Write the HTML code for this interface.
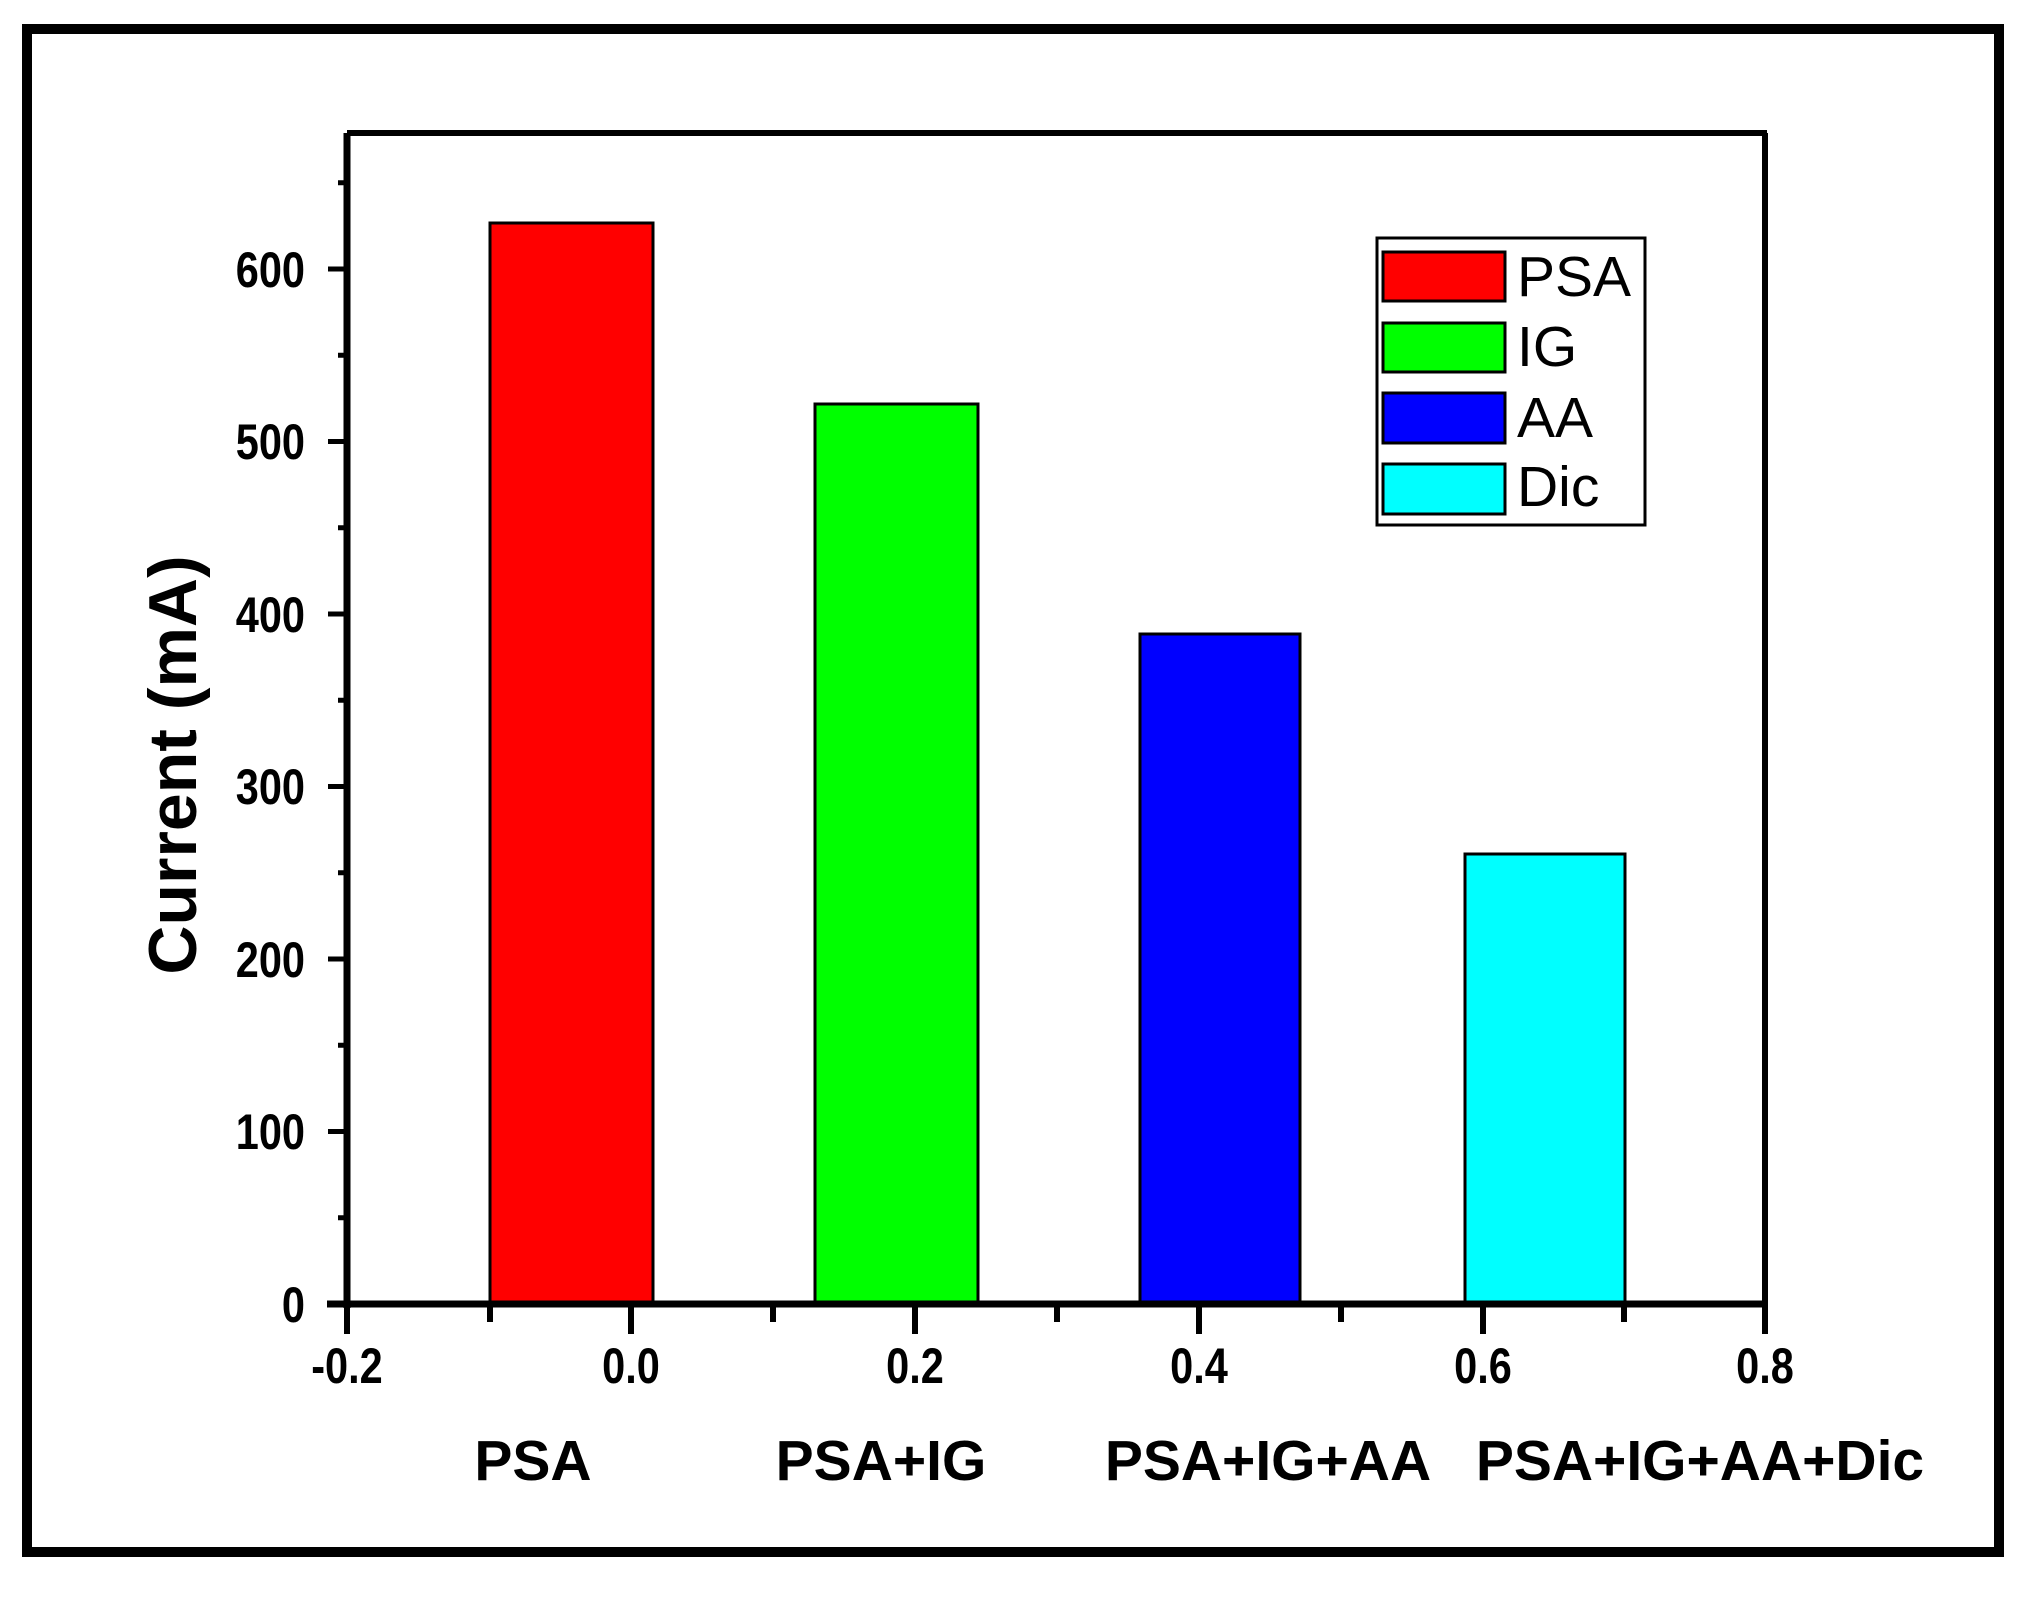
<!DOCTYPE html>
<html><head><meta charset="utf-8"><style>
html,body{margin:0;padding:0;background:#fff}
</style></head><body>
<svg width="2032" height="1593" viewBox="0 0 2032 1593" xmlns="http://www.w3.org/2000/svg" font-family="Liberation Sans, Arial, sans-serif">
<rect x="0" y="0" width="2032" height="1593" fill="#fff"/>
<rect x="27" y="29" width="1972" height="1523" fill="none" stroke="#000" stroke-width="10"/>
<g stroke="#000" stroke-width="3">
<rect x="490" y="223" width="163" height="1081" fill="#ff0000"/>
<rect x="815" y="404" width="163" height="900" fill="#00ff00"/>
<rect x="1140" y="634" width="160" height="670" fill="#0000ff"/>
<rect x="1465" y="854" width="160" height="450" fill="#00ffff"/>
</g>
<line x1="347" y1="133" x2="1767" y2="133" stroke="#000" stroke-width="6"/>
<line x1="1765" y1="133" x2="1765" y2="1304" stroke="#000" stroke-width="6"/>
<line x1="347" y1="133" x2="347" y2="1308" stroke="#000" stroke-width="7"/>
<line x1="327" y1="1304" x2="1767" y2="1304" stroke="#000" stroke-width="7"/>
<g stroke="#000" stroke-width="5">
<line x1="328" y1="1304" x2="347" y2="1304"/>
<line x1="328" y1="1131.5" x2="347" y2="1131.5"/>
<line x1="328" y1="959" x2="347" y2="959"/>
<line x1="328" y1="786.5" x2="347" y2="786.5"/>
<line x1="328" y1="614" x2="347" y2="614"/>
<line x1="328" y1="441.5" x2="347" y2="441.5"/>
<line x1="328" y1="269" x2="347" y2="269"/>
<line x1="338" y1="1217.75" x2="347" y2="1217.75"/>
<line x1="338" y1="1045.25" x2="347" y2="1045.25"/>
<line x1="338" y1="872.75" x2="347" y2="872.75"/>
<line x1="338" y1="700.25" x2="347" y2="700.25"/>
<line x1="338" y1="527.75" x2="347" y2="527.75"/>
<line x1="338" y1="355.25" x2="347" y2="355.25"/>
<line x1="338" y1="182.75" x2="347" y2="182.75"/>
</g>
<g stroke="#000" stroke-width="6">
<line x1="347" y1="1304" x2="347" y2="1334"/>
<line x1="631" y1="1304" x2="631" y2="1334"/>
<line x1="915" y1="1304" x2="915" y2="1334"/>
<line x1="1199" y1="1304" x2="1199" y2="1334"/>
<line x1="1483" y1="1304" x2="1483" y2="1334"/>
<line x1="1765" y1="1304" x2="1765" y2="1334"/>
<line x1="490" y1="1304" x2="490" y2="1322"/>
<line x1="773" y1="1304" x2="773" y2="1322"/>
<line x1="1057" y1="1304" x2="1057" y2="1322"/>
<line x1="1341" y1="1304" x2="1341" y2="1322"/>
<line x1="1624" y1="1304" x2="1624" y2="1322"/>
</g>
<g font-size="50" font-weight="bold" text-anchor="end" fill="#000">
<text x="305" y="1322" transform="translate(305,0) scale(0.83,1) translate(-305,0)">0</text>
<text x="305" y="1149" transform="translate(305,0) scale(0.83,1) translate(-305,0)">100</text>
<text x="305" y="977" transform="translate(305,0) scale(0.83,1) translate(-305,0)">200</text>
<text x="305" y="804" transform="translate(305,0) scale(0.83,1) translate(-305,0)">300</text>
<text x="305" y="632" transform="translate(305,0) scale(0.83,1) translate(-305,0)">400</text>
<text x="305" y="459" transform="translate(305,0) scale(0.83,1) translate(-305,0)">500</text>
<text x="305" y="287" transform="translate(305,0) scale(0.83,1) translate(-305,0)">600</text>
</g>
<g font-size="50" font-weight="bold" text-anchor="middle" fill="#000">
<text x="347" y="1383" transform="translate(347,0) scale(0.83,1) translate(-347,0)">-0.2</text>
<text x="631" y="1383" transform="translate(631,0) scale(0.83,1) translate(-631,0)">0.0</text>
<text x="915" y="1383" transform="translate(915,0) scale(0.83,1) translate(-915,0)">0.2</text>
<text x="1199" y="1383" transform="translate(1199,0) scale(0.83,1) translate(-1199,0)">0.4</text>
<text x="1483" y="1383" transform="translate(1483,0) scale(0.83,1) translate(-1483,0)">0.6</text>
<text x="1765" y="1383" transform="translate(1765,0) scale(0.83,1) translate(-1765,0)">0.8</text>
</g>
<g font-size="57" font-weight="bold" text-anchor="middle" fill="#000">
<text x="533" y="1480">PSA</text>
<text x="881" y="1480">PSA+IG</text>
<text x="1268" y="1480">PSA+IG+AA</text>
<text x="1700" y="1480">PSA+IG+AA+Dic</text>
</g>
<text x="0" y="0" font-size="68" font-weight="bold" text-anchor="middle" transform="translate(196,765) rotate(-90)" fill="#000">Current (mA)</text>
<rect x="1377" y="238" width="268" height="287" fill="#fff" stroke="#000" stroke-width="3"/>
<g stroke="#000" stroke-width="3">
<rect x="1383" y="252" width="122" height="49" fill="#ff0000"/>
<rect x="1383" y="323" width="122" height="49" fill="#00ff00"/>
<rect x="1383" y="393" width="122" height="50" fill="#0000ff"/>
<rect x="1383" y="464" width="122" height="50" fill="#00ffff"/>
</g>
<g font-size="57" fill="#000">
<text x="1517" y="296">PSA</text>
<text x="1517" y="366">IG</text>
<text x="1517" y="437">AA</text>
<text x="1517" y="506">Dic</text>
</g>
</svg>
</body></html>
